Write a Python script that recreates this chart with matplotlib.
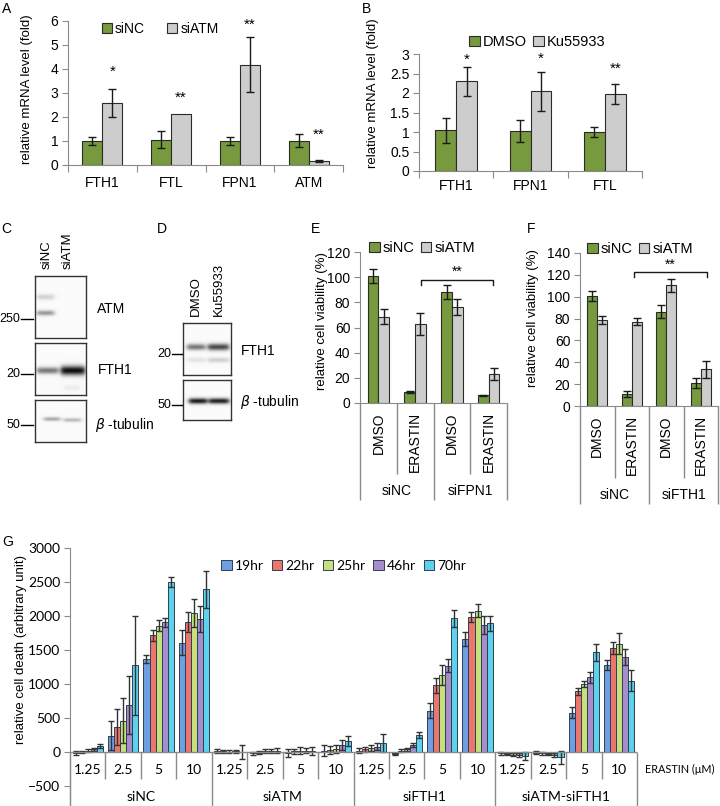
import numpy as np
import matplotlib
matplotlib.use("Agg")
from matplotlib import pyplot as plt
from matplotlib.patches import Patch
from matplotlib.lines import Line2D

plt.rcParams['font.family'] = ['Liberation Sans', 'DejaVu Sans']

W, H = 720, 806

# ---- panel A data
genes_a = ['FTH1', 'FTL', 'FPN1', 'ATM']
sinc_a = [1.0, 1.05, 1.0, 1.02]
sinc_a_err = [0.17, 0.35, 0.17, 0.27]
siatm_a = [2.59, 2.13, 4.18, 0.17]
siatm_a_err = [0.58, 0.0, 1.15, 0.05]
stars_a = ['*', '**', '**', '**']
stars_a_y = [3.88, 2.82, 5.85, 1.25]

# ---- panel B data
genes_b = ['FTH1', 'FPN1', 'FTL']
dmso_b = [1.04, 1.02, 1.0]
dmso_b_err = [0.33, 0.28, 0.13]
ku_b = [2.3, 2.05, 1.97]
ku_b_err = [0.37, 0.5, 0.25]
stars_b = ['*', '*', '**']
stars_b_y = [2.85, 2.89, 2.63]

# ---- panels E / F data
treat_ef = ['DMSO', 'ERASTIN', 'DMSO', 'ERASTIN']
groups_e = ['siNC', 'siFPN1']
groups_f = ['siNC', 'siFTH1']
e_sinc = [100.8, 8.7, 87.9, 6.1]
e_sinc_err = [5.5, 0.5, 5.5, 0.5]
e_siatm = [68.6, 62.5, 76.0, 23.0]
e_siatm_err = [6.0, 8.7, 6.3, 4.5]
f_sinc = [100.3, 11.0, 86.2, 21.4]
f_sinc_err = [4.5, 3.0, 6.0, 4.6]
f_siatm = [78.3, 77.3, 110.4, 33.6]
f_siatm_err = [3.7, 3.5, 5.8, 8.0]

# ---- panel G data
doses_g = ['1.25', '2.5', '5', '10']
groups_g = ['siNC', 'siATM', 'siFTH1', 'siATM-siFTH1']
times_g = ['19hr', '22hr', '25hr', '46hr', '70hr']
h19 = [-20, 240, 1370, 1610, 10, -20, -10, 20, 20, -30, 610, 1660, -20, -10, 580, 1275]
h22 = [0, 365, 1715, 1915, 10, -10, 10, 30, 40, 20, 980, 1990, -30, -20, 890, 1525]
h25 = [20, 460, 1855, 2050, 5, 10, 20, 50, 60, 40, 1130, 2075, -40, -30, 1000, 1590]
h46 = [40, 690, 1905, 1955, 10, 20, 20, 100, 80, 100, 1270, 1870, -50, -40, 1100, 1395]
h70 = [90, 1275, 2495, 2390, 0, 20, 10, 160, 130, 250, 1965, 1890, -60, -80, 1465, 1050]
e19 = [30, 210, 55, 180, 30, 20, 60, 80, 40, 20, 115, 105, 20, 20, 85, 75]
e22 = [20, 265, 85, 150, 20, 20, 40, 60, 40, 20, 115, 75, 20, 20, 45, 90]
e25 = [20, 330, 80, 205, 20, 30, 50, 60, 40, 20, 150, 95, 20, 20, 50, 155]
e46 = [20, 425, 60, 185, 20, 30, 40, 70, 50, 30, 95, 130, 30, 30, 80, 115]
e70 = [30, 730, 75, 275, 100, 40, 60, 70, 130, 50, 130, 115, 60, 90, 130, 155]

# ---- blot bands: (lane left px, lane right px, band centre px, intensity, sigma)
blot_c_atm = [(37, 54, 297, 0.17, 2.0), (37, 54, 313, 0.42, 1.8)]
blot_c_fth1 = [(37, 58, 371, 0.55, 2.3), (61, 85, 371, 1.0, 3.2), (64, 80, 388, 0.06, 2.0)]
blot_c_tub = [(44, 60, 419, 0.35, 1.4), (64, 81, 420, 0.28, 1.4)]
blot_d_fth1 = [(187, 205, 347, 0.55, 2.2), (208, 229, 347, 0.75, 2.4),
               (187, 205, 360, 0.1, 1.8), (208, 229, 360, 0.18, 1.8)]
blot_d_tub = [(189, 207, 401, 0.95, 2.0), (209, 229, 401, 0.92, 2.0)]

green = '#779A3E'
grey = '#CDCDCD'
edge = '#2b2b2b'
axcol = '#8a8a8a'
g_colors = ['#6E9FE2', '#EA766E', '#C6E07E', '#A68DCD', '#5CD2EC']

fig = plt.figure(figsize=(W / 100, H / 100), dpi=100)


def px_axes(l, t, r, b):
    return fig.add_axes([l / W, 1 - b / H, (r - l) / W, (b - t) / H])


def ftext(x, y, s, **kw):
    fig.text(x / W, 1 - y / H, s, **kw)


def fline(x0, x1, y0, y1, **kw):
    fig.add_artist(Line2D([x0 / W, x1 / W], [1 - y0 / H, 1 - y1 / H],
                          transform=fig.transFigure, **kw))


def style_axis(ax, ticksize=10):
    for s in ['top', 'right']:
        ax.spines[s].set_visible(False)
    for s in ['left', 'bottom']:
        ax.spines[s].set_color(axcol)
    ax.tick_params(axis='y', colors=axcol, labelcolor='black', length=4,
                   labelsize=ticksize, pad=3)


def pair_bars(ax, a, a_err, b, b_err, ca, cb, w=0.29):
    x = np.arange(1, len(a) + 1)
    ekw = dict(ecolor='#1a1a1a', elinewidth=1, capthick=1)
    ax.bar(x - w / 2, a, w, color=ca, edgecolor=edge, linewidth=0.8,
           yerr=a_err, capsize=3, error_kw=ekw)
    b_err = [e if e > 0 else np.nan for e in b_err]
    ax.bar(x + w / 2, b, w, color=cb, edgecolor=edge, linewidth=0.8,
           yerr=b_err, capsize=3, error_kw=ekw)
    return x


def boundary_ticks(ax, n, labels, pad):
    ax.set_xlim(0.5, n + 0.5)
    ax.set_xticks(np.arange(0.5, n + 1))
    ax.set_xticklabels([])
    ax.tick_params(axis='x', which='major', colors=axcol, length=5)
    ax.set_xticks(np.arange(1, n + 1), minor=True)
    ax.set_xticklabels(labels, minor=True)
    ax.tick_params(axis='x', which='minor', length=0, labelsize=10, pad=pad)


def legend(ax, labels, colors, cx, cy, size=10, spacing=1.2):
    hs = [Patch(facecolor=c, edgecolor=edge, linewidth=0.8) for c in colors]
    ax.legend(hs, labels, loc='center', bbox_to_anchor=(cx / W, 1 - cy / H),
              bbox_transform=fig.transFigure, ncol=len(labels), frameon=False,
              handlelength=0.75, handleheight=0.75, handletextpad=0.2,
              columnspacing=spacing, fontsize=size, borderpad=0)


# ================= A
axA = px_axes(68, 21, 343, 165)
x = pair_bars(axA, sinc_a, sinc_a_err, siatm_a, siatm_a_err, green, grey)
axA.set_ylim(0, 6)
axA.set_yticks(range(0, 7))
style_axis(axA)
boundary_ticks(axA, 4, genes_a, 8)
for xi, s, y in zip(x, stars_a, stars_a_y):
    axA.text(xi + 0.145, y, s, ha='center', va='center', fontsize=11)
legend(axA, ['siNC', 'siATM'], [green, grey], 160, 29, spacing=1.6)
ftext(27, 89, 'relative mRNA level (fold)', rotation=90, ha='center', va='center', fontsize=9.5)
ftext(2, 2, 'A', ha='left', va='top', fontsize=10)

# ================= B
axB = px_axes(419, 54, 642, 171)
x = pair_bars(axB, dmso_b, dmso_b_err, ku_b, ku_b_err, green, grey, w=0.28)
axB.set_ylim(0, 3)
axB.set_yticks(np.arange(0, 3.01, 0.5))
axB.set_yticklabels(['0', '0.5', '1', '1.5', '2', '2.5', '3'])
style_axis(axB)
boundary_ticks(axB, 3, genes_b, 6)
for xi, s, y in zip(x, stars_b, stars_b_y):
    axB.text(xi + 0.14, y, s, ha='center', va='center', fontsize=11)
legend(axB, ['DMSO', 'Ku55933'], [green, grey], 537, 42, size=10.5, spacing=0.4)
ftext(373, 93, 'relative mRNA level (fold)', rotation=90, ha='center', va='center', fontsize=9.5)
ftext(362, 2, 'B', ha='left', va='top', fontsize=10)


# ================= C / D blots
def draw_blot(box, bands):
    l, t, r, b = box
    ax = px_axes(l, t, r, b)
    xs = np.linspace(l, r, (r - l) * 4)
    ys = np.linspace(t, b, (b - t) * 4)
    X, Y = np.meshgrid(xs, ys)
    img = np.zeros_like(X)
    for x0, x1, yc, inten, sig in bands:
        lane = 1 / (1 + np.exp(-(X - x0) / 1.3)) / (1 + np.exp((X - x1) / 1.3))
        img += inten * lane * np.exp(-0.5 * ((Y - yc) / sig) ** 2)
    ax.imshow(np.clip(img, 0, 1), cmap='gray_r', vmin=-0.02, vmax=1.05,
              extent=(l, r, b, t), aspect='auto', interpolation='bilinear')
    ax.set_xticks([])
    ax.set_yticks([])
    for s in ax.spines.values():
        s.set_color('#333333')
        s.set_linewidth(1)
    return ax


draw_blot((35, 276, 86, 338), blot_c_atm)
draw_blot((35, 343, 86, 395), blot_c_fth1)
draw_blot((35, 400, 86, 442), blot_c_tub)
ftext(47, 269, 'siNC', rotation=90, ha='center', va='bottom', fontsize=9.5)
ftext(68, 269, 'siATM', rotation=90, ha='center', va='bottom', fontsize=9.5)
for lab, y in [('250', 319), ('20', 374), ('50', 425)]:
    ftext(20, y, lab, ha='right', va='center', fontsize=9)
    fline(21, 33, y, y, color='k', lw=1)
ftext(97, 309, 'ATM', ha='left', va='center', fontsize=10)
ftext(98, 370, 'FTH1', ha='left', va='center', fontsize=10)
ftext(95, 425, r'$\beta$ -tubulin', ha='left', va='center', fontsize=10)
ftext(1, 222, 'C', ha='left', va='top', fontsize=10)

draw_blot((183, 323, 231, 375), blot_d_fth1)
draw_blot((183, 380, 231, 420), blot_d_tub)
ftext(196, 316, 'DMSO', rotation=90, ha='center', va='bottom', fontsize=9.5)
ftext(219, 316, 'Ku55933', rotation=90, ha='center', va='bottom', fontsize=9.5)
for lab, y in [('20', 354), ('50', 405)]:
    ftext(171, y, lab, ha='right', va='center', fontsize=9)
    fline(172, 182, y, y, color='k', lw=1)
ftext(241, 351, 'FTH1', ha='left', va='center', fontsize=10)
ftext(240, 402, r'$\beta$ -tubulin', ha='left', va='center', fontsize=10)
ftext(157, 222, 'D', ha='left', va='top', fontsize=10)


# ================= E / F
def viability(box, a, a_err, b, b_err, groups, ymax, bracket, bar_y, star_y,
              leg_x, leg_y, ylab_x, ylab_y, letter, letter_x):
    l, t, r, bt = box
    ax = px_axes(l, t, r, bt)
    w = 0.29
    pair_bars(ax, a, a_err, b, b_err, green, grey, w=w)
    ax.set_xlim(0.5, 4.5)
    ax.set_ylim(0, ymax)
    ax.set_yticks(np.arange(0, ymax + 1, 20))
    style_axis(ax)
    ax.set_xticks([])
    # category table under the axis
    ax.vlines([1.5, 3.5], 0, -0.47 * ymax, colors=axcol, lw=1, clip_on=False)
    ax.vlines([0.5, 2.5, 4.5], 0, -0.64 * ymax, colors=axcol, lw=1, clip_on=False)
    for i, lab in enumerate(treat_ef):
        ax.text(i + 1, -0.06 * ymax, lab, rotation=90, ha='center', va='top',
                fontsize=10, clip_on=False)
    for i, lab in enumerate(groups):
        ax.text(1.5 + 2 * i, -0.58 * ymax, lab, ha='center', va='center',
                fontsize=10, clip_on=False)
    x0, x1 = bracket
    ax.plot([x0, x0, x1, x1], [bar_y - 4, bar_y, bar_y, bar_y - 4], color='#1a1a1a', lw=1)
    ax.text((x0 + x1) / 2, star_y, '**', ha='center', va='center', fontsize=10)
    legend(ax, ['siNC', 'siATM'], [green, grey], leg_x, leg_y, size=10.5, spacing=0.4)
    ftext(ylab_x, ylab_y, 'relative cell viability (%)', rotation=90,
          ha='center', va='center', fontsize=9.5)
    ftext(letter_x, 222, letter, ha='left', va='top', fontsize=10)


viability((360, 252, 507, 403), e_sinc, e_sinc_err, e_siatm, e_siatm_err, groups_e, 120,
          (2.16, 4.11), 97.6, 104.5, 422, 248, 322, 321, 'E', 311)
viability((580, 253, 718, 406), f_sinc, f_sinc_err, f_siatm, f_siatm_err, groups_f, 140,
          (2.07, 4.18), 122.3, 129.5, 640, 249, 533, 318, 'F', 527)

# ================= G
axG = px_axes(70, 548, 637, 806)
ppu = (752 - 548) / 3000
axG.set_ylim(-(806 - 752) / ppu, 3000)
axG.set_xlim(0.5, 16.5)
xg = np.arange(1, 17)
bw = 0.171
series = [h19, h22, h25, h46, h70]
errs = [e19, e22, e25, e46, e70]
for k, (vals, err, col) in enumerate(zip(series, errs, g_colors)):
    axG.bar(xg + (k - 2) * bw, vals, bw, color=col, edgecolor='#2f4050', linewidth=0.7,
            yerr=err, capsize=2.5,
            error_kw=dict(ecolor='#333333', elinewidth=1, capthick=1), label=times_g[k])
for s in ['top', 'right', 'bottom']:
    axG.spines[s].set_visible(False)
axG.spines['left'].set_color(axcol)
axG.set_yticks(np.arange(-500, 3001, 500))
axG.tick_params(axis='y', colors=axcol, labelcolor='black', length=4, labelsize=10, pad=3)
for lab in axG.get_yticklabels():
    lab.set_family('Lato')
axG.set_xticks([])
axG.axhline(0, color=axcol, lw=1)
lo_dose = -(779 - 752) / ppu
lo_group = -(806 - 752) / ppu
dose_lines = [i + 0.5 for i in range(1, 16) if i % 4 != 0]
group_lines = [0.5, 4.5, 8.5, 12.5, 16.5]
axG.vlines(dose_lines, 0, lo_dose, colors=axcol, lw=1, clip_on=False)
axG.vlines(group_lines, 0, lo_group, colors=axcol, lw=1, clip_on=False)
for i in range(16):
    axG.text(i + 1, -(770 - 752) / ppu, doses_g[i % 4], ha='center', va='center',
             fontsize=10, family='Lato', clip_on=False)
for i, g in enumerate(groups_g):
    axG.text(2.5 + 4 * i, -(797 - 752) / ppu, g, ha='center', va='center',
             fontsize=10, family='Lato', clip_on=False)
hs = [Patch(facecolor=c, edgecolor='#2f4050', linewidth=0.7) for c in g_colors]
axG.legend(hs, times_g, loc='center', bbox_to_anchor=(344 / W, 1 - 566 / H),
           bbox_transform=fig.transFigure, ncol=5, frameon=False,
           handlelength=0.75, handleheight=0.75, handletextpad=0.25,
           columnspacing=0.55, prop=dict(family='Lato', size=10), borderpad=0)
ftext(645, 769, 'ERASTIN (\u03bcM)', ha='left', va='center', fontsize=7.8, family='Lato')
ftext(21, 649, 'relative cell death (arbitrary unit)', rotation=90, ha='center',
      va='center', fontsize=9.5)
ftext(2, 535, 'G', ha='left', va='top', fontsize=10)

fig.savefig('out.png', dpi=100)
